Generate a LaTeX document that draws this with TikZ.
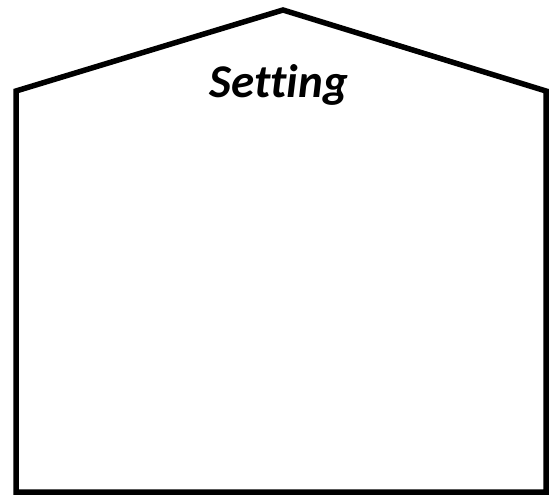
\documentclass[tikz,border=0pt]{standalone}
\usepackage{fontspec}
\setmainfont[Ligatures={NoCommon}]{Carlito}
\usepackage{tikz}
\usetikzlibrary{positioning}

\begin{document}
\begin{tikzpicture}[
  x=1pt,y=-1pt,
  wall/.style={line width=5.5pt,line join=miter},
  title/.style={font=\fontsize{47}{50}\selectfont\bfseries\itshape,inner sep=0pt,anchor=base}
]
\useasboundingbox (0,0) rectangle (554,495);
\coordinate (bl) at (16,492);
\coordinate (tl) at (16,91);
\coordinate (apex) at (283,10);
\coordinate (tr) at (546,91);
\coordinate (br) at (546,492);
\draw[wall] (bl) -- (tl) -- (apex) -- (tr) -- (br) -- cycle;
\node[title] (setting) at (279,97) {Setting};
\end{tikzpicture}
\end{document}
